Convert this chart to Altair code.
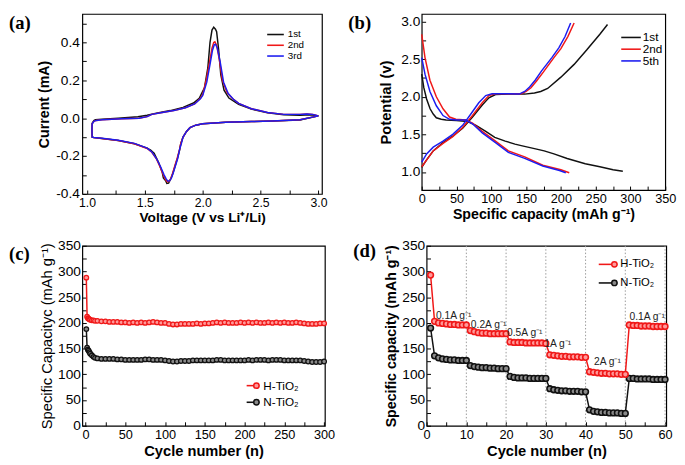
import altair as alt
import pandas as pd

# ---------------- (a) cyclic voltammetry ----------------
cv1_v = [3.00, 2.84, 2.60, 2.42, 2.20, 2.00, 1.94, 1.89, 1.86, 1.83, 1.81, 1.80, 1.78, 1.76, 1.74, 1.72, 1.705, 1.69, 1.68, 1.66,
         1.65, 1.62, 1.58, 1.55, 1.52, 1.41, 1.27, 1.13, 1.06, 1.045, 1.043, 1.045, 1.06, 1.073, 1.13, 1.27, 1.44, 1.52, 1.61, 1.72,
         1.83, 1.92, 1.97, 1.99, 2.015, 2.044, 2.063, 2.08, 2.095, 2.11, 2.12, 2.137, 2.156, 2.184, 2.226, 2.31, 2.42, 2.56, 2.70, 2.84,
         2.93, 3.00]
cv1_i = [0.012, -0.010, -0.015, -0.018, -0.022, -0.030, -0.037, -0.050, -0.070, -0.100, -0.135, -0.170, -0.215, -0.255, -0.295,
         -0.325, -0.343, -0.345, -0.330, -0.315, -0.285, -0.235, -0.185, -0.168, -0.158, -0.135, -0.118, -0.107, -0.102, -0.100,
         -0.060, -0.027, -0.013, -0.008, -0.005, 0.000, 0.007, 0.015, 0.028, 0.040, 0.057, 0.080, 0.105, 0.130, 0.160, 0.265,
         0.400, 0.465, 0.480, 0.470, 0.456, 0.365, 0.230, 0.148, 0.106, 0.073, 0.048, 0.028, 0.018, 0.015, 0.018, 0.012]
cv2_v = [3.00, 2.84, 2.60, 2.42, 2.20, 2.00, 1.94, 1.89, 1.86, 1.83, 1.81, 1.80, 1.78, 1.76, 1.74, 1.725, 1.71, 1.695, 1.68, 1.66,
         1.63, 1.60, 1.56, 1.52, 1.41, 1.27, 1.13, 1.06, 1.045, 1.043, 1.045, 1.06, 1.08, 1.13, 1.30, 1.45, 1.52, 1.56, 1.65, 1.75,
         1.85, 1.93, 1.98, 2.00, 2.03, 2.06, 2.08, 2.095, 2.105, 2.12, 2.142, 2.17, 2.21, 2.255, 2.31, 2.42, 2.56, 2.70, 2.84, 2.90,
         2.95, 3.00]
cv2_i = [0.012, -0.008, -0.015, -0.018, -0.022, -0.030, -0.037, -0.050, -0.070, -0.100, -0.135, -0.165, -0.210, -0.250, -0.290,
         -0.318, -0.333, -0.336, -0.325, -0.300, -0.255, -0.215, -0.180, -0.160, -0.135, -0.118, -0.107, -0.102, -0.100, -0.060,
         -0.030, -0.017, -0.012, -0.008, -0.003, 0.000, 0.008, 0.020, 0.030, 0.040, 0.055, 0.075, 0.105, 0.125, 0.200, 0.300,
         0.370, 0.400, 0.403, 0.385, 0.315, 0.200, 0.135, 0.105, 0.078, 0.050, 0.030, 0.020, 0.020, 0.022, 0.020, 0.012]
cv3_v = [3.00, 2.84, 2.60, 2.42, 2.20, 2.00, 1.94, 1.89, 1.86, 1.83, 1.815, 1.80, 1.785, 1.765, 1.745, 1.73, 1.715, 1.70, 1.685,
         1.665, 1.635, 1.60, 1.56, 1.52, 1.41, 1.27, 1.13, 1.06, 1.045, 1.043, 1.045, 1.06, 1.08, 1.13, 1.30, 1.45, 1.52, 1.56, 1.65,
         1.75, 1.85, 1.93, 1.98, 2.00, 2.035, 2.065, 2.085, 2.10, 2.11, 2.125, 2.15, 2.18, 2.22, 2.265, 2.31, 2.42, 2.56, 2.70, 2.84,
         2.90, 2.95, 3.00]
cv3_i = [0.012, -0.008, -0.015, -0.018, -0.022, -0.030, -0.037, -0.050, -0.070, -0.100, -0.135, -0.165, -0.210, -0.250, -0.290,
         -0.316, -0.330, -0.333, -0.322, -0.298, -0.255, -0.213, -0.178, -0.158, -0.133, -0.117, -0.106, -0.102, -0.100, -0.060,
         -0.030, -0.017, -0.012, -0.008, -0.003, 0.000, 0.008, 0.020, 0.030, 0.040, 0.055, 0.075, 0.102, 0.120, 0.190, 0.290,
         0.360, 0.388, 0.390, 0.372, 0.300, 0.190, 0.130, 0.100, 0.078, 0.050, 0.030, 0.020, 0.020, 0.022, 0.020, 0.012]
cv_names = ["1st", "2nd", "3rd"]

# ---------------- (b) charge / discharge ----------------
gc1_dis_cap = [0, 3, 7, 12, 16.5, 21, 28, 35, 50, 66, 78, 92, 105, 120, 134, 143, 162, 176, 190, 209, 235, 256, 275, 289]
gc1_dis_pot = [2.30, 2.12, 1.97, 1.84, 1.77, 1.72, 1.70, 1.69, 1.685, 1.67, 1.62, 1.54, 1.46, 1.41, 1.37, 1.35, 1.31, 1.28,
               1.24, 1.18, 1.11, 1.07, 1.03, 1.01]
gc1_chg_cap = [0, 7, 16.5, 30.6, 44.6, 58.8, 73, 87, 96.5, 106, 124.5, 148, 162, 171, 181, 200, 219, 237, 256, 267]
gc1_chg_pot = [1.06, 1.16, 1.28, 1.39, 1.475, 1.58, 1.73, 1.89, 1.985, 2.03, 2.035, 2.035, 2.05, 2.07, 2.11, 2.26, 2.43,
               2.62, 2.83, 2.96]
gc2_dis_cap = [0, 4.7, 11.8, 21, 30.6, 40, 49, 63.5, 73, 87, 106, 124.5, 148, 174, 200, 212]
gc2_dis_pot = [2.83, 2.52, 2.22, 2.00, 1.84, 1.73, 1.70, 1.69, 1.65, 1.54, 1.41, 1.28, 1.20, 1.09, 1.03, 0.99]
gc2_chg_cap = [0, 16.5, 30.6, 44.6, 58.8, 73, 87, 96.5, 106, 124.5, 143, 150, 157, 165, 175, 190, 200, 210, 219]
gc2_chg_pot = [1.07, 1.28, 1.38, 1.47, 1.59, 1.75, 1.92, 2.015, 2.04, 2.04, 2.04, 2.07, 2.12, 2.21, 2.33, 2.52, 2.64, 2.80, 2.98]
gc5_dis_cap = [0, 4.7, 11.8, 21, 30.6, 40, 50, 63.5, 73, 87, 106, 124.5, 148, 174, 198, 207]
gc5_dis_pot = [2.52, 2.30, 2.07, 1.88, 1.75, 1.70, 1.69, 1.69, 1.64, 1.52, 1.39, 1.26, 1.18, 1.08, 1.02, 0.99]
gc5_chg_cap = [0, 7, 16.5, 30.6, 44.6, 58.8, 70.6, 82, 92, 101, 120, 140, 148, 155, 163, 172, 187, 197, 206, 214]
gc5_chg_pot = [1.13, 1.24, 1.33, 1.41, 1.50, 1.62, 1.77, 1.92, 2.015, 2.04, 2.04, 2.035, 2.07, 2.13, 2.22, 2.34, 2.52, 2.65,
               2.80, 2.98]
gc_names = ["1st", "2nd", "5th"]

# ---------------- (c) cycling ----------------
c_cycles = [1, 2, 3, 4, 5, 6, 8, 10, 12, 15, 20, 25, 30, 35, 40, 45, 50, 55, 60, 65, 70, 75, 80, 85, 90, 95, 100,
            105, 110, 115, 120, 125, 130, 135, 140, 145, 150, 155, 160, 165, 170, 175, 180, 185, 190, 195, 200,
            205, 210, 215, 220, 225, 230, 235, 240, 245, 250, 255, 260, 265, 270, 275, 280, 285, 290, 295, 300]
c_h = [288, 212, 209, 208, 207, 206, 205, 205, 204, 204, 203, 203, 202, 202, 202, 201, 201, 200, 201, 200, 201, 200,
       201, 202, 201, 200, 200, 198, 197, 197, 198, 198, 198, 198, 199, 198, 199, 199, 200, 201, 200, 201, 200, 200,
       200, 201, 200, 201, 200, 201, 200, 200, 201, 200, 201, 200, 201, 200, 200, 201, 200, 199, 198, 198, 198, 199, 199]
c_n = [188, 152, 148, 146, 143, 140, 137, 134, 132, 131, 130, 130, 130, 130, 129, 129, 128, 128, 128, 128, 128, 129,
       129, 128, 128, 128, 127, 126, 125, 125, 126, 126, 126, 127, 127, 127, 127, 127, 127, 128, 128, 127, 127, 127,
       127, 127, 127, 128, 127, 128, 128, 128, 127, 128, 128, 128, 127, 127, 127, 127, 127, 126, 125, 124, 124, 124, 125]

# ---------------- (d) rate capability ----------------
d_cycles = [1, 2, 3, 4, 5, 6, 7, 8, 9, 10, 11, 12, 13, 14, 15, 16, 17, 18, 19, 20,
            21, 22, 23, 24, 25, 26, 27, 28, 29, 30, 31, 32, 33, 34, 35, 36, 37, 38, 39, 40,
            41, 42, 43, 44, 45, 46, 47, 48, 49, 50, 51, 52, 53, 54, 55, 56, 57, 58, 59, 60]
d_h = [293, 203, 200, 199, 198, 197, 197, 196, 196, 196,
       185, 183, 181, 180, 180, 179, 179, 179, 179, 179,
       163, 162, 162, 162, 161, 161, 161, 161, 161, 160,
       138, 137, 136, 135, 135, 134, 134, 134, 133, 133,
       105, 104, 103, 102, 102, 101, 101, 101, 100, 100,
       196, 195, 195, 194, 194, 194, 193, 193, 193, 193]
d_n = [190, 136, 132, 130, 129, 128, 128, 127, 127, 127,
       117, 115, 114, 113, 113, 112, 112, 111, 111, 111,
       96, 94, 93, 93, 93, 92, 92, 92, 92, 92,
       72, 70, 69, 68, 68, 67, 67, 67, 66, 66,
       31, 28, 27, 26, 26, 25, 25, 25, 24, 24,
       92, 92, 91, 91, 91, 91, 90, 90, 90, 90]
d_step_lines = [10, 20, 30, 40, 50, 60]
rate_text = ["0.1A g\u207b\u00b9", "0.2A g\u207b\u00b9", "0.5A g\u207b\u00b9", "1A g\u207b\u00b9", "2A g\u207b\u00b9", "0.1A g\u207b\u00b9"]
rate_x = [6.8, 15.6, 24.7, 33.0, 45.5, 55.5]
rate_y = [214, 195, 180, 158, 123, 212]
series_names = ["H-TiO\u2082", "N-TiO\u2082"]

BLACK = "#111111"
RED = "#f01818"
BLUE = "#1c1cf0"
FONT = "Liberation Sans"


def ax(title, values, expr, weight="bold", tpad=3, lpad=3, tsize=15, lsize=13):
    return alt.Axis(title=title, values=values, labelExpr=expr, offset=-4, tickSize=4, domain=False, grid=False,
                    labelPadding=lpad, titlePadding=tpad, titleFontWeight=weight, labelFont=FONT, labelFontSize=lsize,
                    titleFont=FONT, titleFontSize=tsize, tickColor="black", labelColor="black", titleColor="black",
                    labelOverlap=False, labelFlush=False, tickWidth=1)


def one(text):
    return pd.DataFrame({"label": [text]})


def legend_line(text, color, x1, x2, y, tx, fs, marker=None, mx=None):
    layers = [alt.Chart(one(text)).mark_rule(color=color, strokeWidth=1.6).encode(
        x=alt.value(x1), x2=alt.value(x2), y=alt.value(y))]
    if marker is not None:
        layers.append(alt.Chart(one(text)).mark_point(shape="circle", filled=True, fill=marker, stroke=color,
                                                      strokeWidth=1.5, size=30, opacity=1).encode(
            x=alt.value(mx), y=alt.value(y)))
    layers.append(alt.Chart(one(text)).mark_text(align="left", baseline="middle", font=FONT, fontSize=fs,
                                                 color="black").encode(
        x=alt.value(tx), y=alt.value(y), text="label:N"))
    return layers


def panel_label(text, y):
    return alt.Chart(one(text)).mark_text(align="left", baseline="middle", font="Liberation Serif",
                                          fontWeight="bold", fontSize=19, color="black").encode(
        x=alt.value(-75), y=alt.value(y), text="label:N")


lab1 = "round(datum.value*10)%2==0 ? (datum.value<0 ? '-' : '') + format(abs(datum.value),'.1f') : ''"
lab_half = "round(datum.value*4)%2==0 ? format(datum.value,'.1f') : ''"
lab50 = "datum.value%50==0 ? format(datum.value,'d') : ''"
lab10 = "datum.value%10==0 ? format(datum.value,'d') : ''"
caps_ticks = [0, 25, 50, 75, 100, 125, 150, 175, 200, 225, 250, 275, 300, 325, 350]

# ---------- panel (a) ----------
xa = alt.X("V:Q", scale=alt.Scale(domain=[0.96, 3.03], nice=False, zero=False),
           axis=ax("Voltage (V vs Li\u207a/Li)", [1.0, 1.25, 1.5, 1.75, 2.0, 2.25, 2.5, 2.75, 3.0], lab_half,
                   tpad=2, tsize=14, lsize=12.5))
ya = alt.Y("I:Q", scale=alt.Scale(domain=[-0.4, 0.55], nice=False, zero=False),
           axis=ax("Current (mA)", [-0.4, -0.3, -0.2, -0.1, 0.0, 0.1, 0.2, 0.3, 0.4, 0.5], lab1, tpad=4,
                   tsize=14.5, lsize=14))
a_layers = []
for vv, ii, col in [(cv1_v, cv1_i, BLACK), (cv2_v, cv2_i, RED), (cv3_v, cv3_i, BLUE)]:
    df = pd.DataFrame({"V": vv, "I": ii, "idx": list(range(len(vv)))})
    a_layers.append(alt.Chart(df).mark_line(color=col, strokeWidth=1.5).encode(x=xa, y=ya, order="idx:Q"))
for name, col, yy in zip(cv_names, [BLACK, RED, BLUE], [21, 32, 43]):
    a_layers += legend_line(name, col, 189, 206, yy, 210, 10)
a_layers.append(panel_label("(a)", 9))
chart_a = alt.layer(*a_layers).properties(width=245, height=184)

# ---------- panel (b) ----------
xb = alt.X("cap:Q", scale=alt.Scale(domain=[0, 350], nice=False, zero=False),
           axis=ax("Specific capacity (mAh g\u207b\u00b9)", caps_ticks, lab50, tpad=2, tsize=14.5))
yb = alt.Y("pot:Q", scale=alt.Scale(domain=[0.76, 3.1], nice=False, zero=False),
           axis=ax("Potential (v)", [1.0, 1.25, 1.5, 1.75, 2.0, 2.25, 2.5, 2.75, 3.0], lab_half, tpad=7, lpad=2,
                   lsize=14))
b_layers = []
for cc, pp, col in [(gc1_dis_cap, gc1_dis_pot, BLACK), (gc1_chg_cap, gc1_chg_pot, BLACK),
                    (gc2_dis_cap, gc2_dis_pot, RED), (gc2_chg_cap, gc2_chg_pot, RED),
                    (gc5_dis_cap, gc5_dis_pot, BLUE), (gc5_chg_cap, gc5_chg_pot, BLUE)]:
    df = pd.DataFrame({"cap": cc, "pot": pp, "idx": list(range(len(cc)))})
    b_layers.append(alt.Chart(df).mark_line(color=col, strokeWidth=1.5).encode(x=xb, y=yb, order="idx:Q"))
for name, col, yy in zip(gc_names, [BLACK, RED, BLUE], [24, 36, 48]):
    b_layers += legend_line(name, col, 204, 224, yy, 226, 12)
b_layers.append(panel_label("(b)", 9))
chart_b = alt.layer(*b_layers).properties(width=249, height=180)

# ---------- panel (c) ----------
xc = alt.X("cycle:Q", scale=alt.Scale(domain=[-4, 301], nice=False, zero=False),
           axis=ax("Cycle number (n)", [0, 25, 50, 75, 100, 125, 150, 175, 200, 225, 250, 275, 300], lab50, tpad=2))
yc = alt.Y("cap:Q", scale=alt.Scale(domain=[0, 350], nice=False, zero=False),
           axis=ax("Specific Capacityc (mAh g\u207b\u00b9)", caps_ticks, lab50, weight="normal", tpad=3, lpad=2,
                   lsize=14))
c_layers = []
for vals, col, fil in [(c_n, BLACK, "#8a8a8a"), (c_h, RED, "#ff9a9a")]:
    df = pd.DataFrame({"cycle": c_cycles, "cap": vals})
    c_layers.append(alt.Chart(df).mark_line(color=col, strokeWidth=1.5).encode(x=xc, y=yc))
    c_layers.append(alt.Chart(df).mark_point(shape="circle", filled=True, fill=fil, stroke=col, strokeWidth=1.3,
                                             size=22, opacity=1).encode(x=xc, y=yc))
c_layers += legend_line(series_names[0], RED, 168, 181, 143, 185, 12, marker="#ff9a9a", mx=178)
c_layers += legend_line(series_names[1], BLACK, 168, 181, 160, 185, 12, marker="#8a8a8a", mx=178)
c_layers.append(panel_label("(c)", 9))
chart_c = alt.layer(*c_layers).properties(width=248, height=184)

# ---------- panel (d) ----------
xd = alt.X("cycle:Q", scale=alt.Scale(domain=[0, 60.3], nice=False, zero=False),
           axis=ax("Cycle number (n)", [0, 5, 10, 15, 20, 25, 30, 35, 40, 45, 50, 55, 60], lab10, tpad=2))
yd = alt.Y("cap:Q", scale=alt.Scale(domain=[0, 350], nice=False, zero=False),
           axis=ax("Specific capacity (mAh g\u207b\u00b9)", caps_ticks, lab50, tpad=3, lpad=2, tsize=14.5, lsize=14))
d_layers = [alt.Chart(pd.DataFrame({"cycle": d_step_lines})).mark_rule(color="#9a9a9a", strokeDash=[1.5, 2],
                                                                       strokeWidth=1).encode(x=xd)]
for vals, col, fil in [(d_n, BLACK, "#8a8a8a"), (d_h, RED, "#ff9a9a")]:
    df = pd.DataFrame({"cycle": d_cycles, "cap": vals})
    d_layers.append(alt.Chart(df).mark_line(color=col, strokeWidth=1.5).encode(x=xd, y=yd))
    d_layers.append(alt.Chart(df).mark_point(shape="circle", filled=True, fill=fil, stroke=col, strokeWidth=1.6,
                                             size=34, opacity=1).encode(x=xd, y=yd))
d_layers.append(alt.Chart(pd.DataFrame({"cycle": rate_x, "cap": rate_y, "label": rate_text})).mark_text(
    font=FONT, fontSize=10.5, color="#222222", baseline="middle", align="center").encode(x=xd, y=yd, text="label:N"))
d_layers += legend_line(series_names[0], RED, 176, 195, 19, 198, 11.5, marker="#ff9a9a", mx=192)
d_layers += legend_line(series_names[1], BLACK, 176, 195, 38, 198, 11.5, marker="#8a8a8a", mx=192)
d_layers.append(panel_label("(d)", 5))
chart_d = alt.layer(*d_layers).properties(width=245, height=184)

row1 = alt.hconcat(chart_a, chart_b, spacing=20)
row2 = alt.hconcat(chart_c, chart_d, spacing=17)
chart = alt.vconcat(row1, row2, spacing=12).properties(
    padding={"left": 0, "top": 0, "right": 0, "bottom": 0}, background="white"
).configure_view(stroke="black", strokeWidth=1.2)

chart.save("out.html", embed_options={"renderer": "svg", "actions": False})
